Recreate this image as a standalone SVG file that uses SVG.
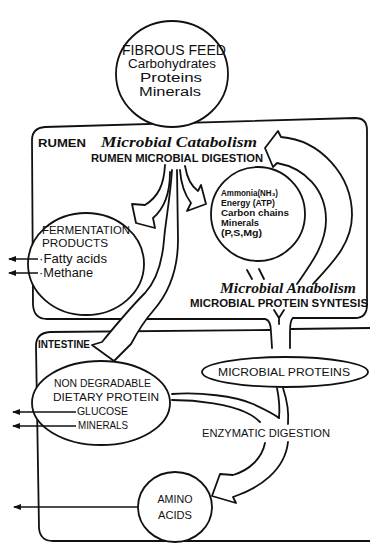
<svg xmlns="http://www.w3.org/2000/svg" width="370" height="544" viewBox="0 0 370 544">
<defs>
<style>
.ln{fill:none;stroke:#111;stroke-width:1.8;stroke-linecap:round;stroke-linejoin:round}
.ar{fill:#fff;stroke:#111;stroke-width:1.8;stroke-linecap:round;stroke-linejoin:round}
.nd{fill:#fff;stroke:#111;stroke-width:1.8}
.t{font-family:"Liberation Sans",Arial,"DejaVu Sans",sans-serif;fill:#111}
.b{font-weight:bold}
.s{font-family:"Liberation Serif","Times New Roman",serif;font-style:italic;font-weight:bold;fill:#111}
.m{text-anchor:middle}
.out{fill:none;stroke:#111;stroke-width:1.5;marker-end:url(#ah)}
</style>
<marker id="ah" viewBox="0 0 8 8" refX="7" refY="4" markerWidth="8" markerHeight="8" markerUnits="userSpaceOnUse" orient="auto">
<path d="M0,1 L8,4 L0,7 Z" fill="#111"/>
</marker>
</defs>
<rect width="370" height="544" fill="#fff"/>

<g id="rumen">
<path class="ln" d="M293 318 L355 318 Q367 318 367 305 L367 130 Q367 118 355 118 L45 127 Q32 128 32 140 L33 305 Q34 319 47 319 L265 319"/>
<text class="t b" x="38" y="147" font-size="11" textLength="48" lengthAdjust="spacingAndGlyphs">RUMEN</text>
<text class="s" x="101" y="147" font-size="14" textLength="156" lengthAdjust="spacingAndGlyphs">Microbial Catabolism</text>
<text class="t b" x="91" y="162" font-size="11" textLength="172" lengthAdjust="spacingAndGlyphs">RUMEN MICROBIAL DIGESTION</text>
</g>

<g id="intestine">
<path class="ln" d="M270 330 L50 332 Q36 333 36 346 L39 528 Q40 541 53 541 L370 541"/>
<path class="ln" d="M291 329 L370 328"/>
<text class="t b" x="38" y="348" font-size="10" textLength="52" lengthAdjust="spacingAndGlyphs">INTESTINE</text>
</g>

<g id="fibrous-feed">
<ellipse class="nd" cx="172" cy="74" rx="56" ry="53"/>
<text class="t m" x="174" y="55" font-size="14" textLength="104" lengthAdjust="spacingAndGlyphs">FIBROUS FEED</text>
<text class="t m" x="172" y="68" font-size="12.5" textLength="88" lengthAdjust="spacingAndGlyphs">Carbohydrates</text>
<text class="t m" x="171" y="82" font-size="12.5" textLength="62" lengthAdjust="spacingAndGlyphs">Proteins</text>
<text class="t m" x="170" y="96" font-size="12.5" textLength="62" lengthAdjust="spacingAndGlyphs">Minerals</text>
</g>

<g id="fermentation-products">
<ellipse class="nd" cx="86" cy="264" rx="58" ry="51"/>
<text class="t" x="42" y="234" font-size="11.5" textLength="88" lengthAdjust="spacingAndGlyphs">FERMENTATION</text>
<text class="t" x="42" y="247" font-size="11.5" textLength="66" lengthAdjust="spacingAndGlyphs">PRODUCTS</text>
<text class="t" x="39" y="263" font-size="13" textLength="68" lengthAdjust="spacingAndGlyphs">·Fatty acids</text>
<text class="t" x="39" y="277" font-size="13" textLength="54" lengthAdjust="spacingAndGlyphs">·Methane</text>
</g>

<g id="ammonia">
<ellipse class="nd" cx="258" cy="214" rx="47" ry="47"/>
<text class="t b" x="221" y="196" font-size="9" textLength="57" lengthAdjust="spacingAndGlyphs">Ammonia(NH₃)</text>
<text class="t b" x="221" y="206" font-size="9" textLength="54" lengthAdjust="spacingAndGlyphs">Energy (ATP)</text>
<text class="t b" x="221" y="216" font-size="9" textLength="68" lengthAdjust="spacingAndGlyphs">Carbon chains</text>
<text class="t b" x="221" y="226" font-size="9" textLength="38" lengthAdjust="spacingAndGlyphs">Minerals</text>
<text class="t b" x="221" y="236" font-size="9" textLength="41" lengthAdjust="spacingAndGlyphs">(P,S,Mg)</text>
</g>

<g id="anabolism">
<text class="s" x="220" y="293" font-size="14" textLength="136" lengthAdjust="spacingAndGlyphs">Microbial Anabolism</text>
<text class="t b" x="190" y="307" font-size="11" textLength="178" lengthAdjust="spacingAndGlyphs">MICROBIAL PROTEIN SYNTESIS</text>
</g>

<g id="microbial-proteins">
<ellipse class="nd" cx="285" cy="372" rx="83" ry="15"/>
<text class="t m" x="284" y="376" font-size="11.5" textLength="132" lengthAdjust="spacingAndGlyphs">MICROBIAL PROTEINS</text>
</g>

<g id="nondegradable-protein">
<ellipse class="nd" cx="101" cy="403" rx="69" ry="42"/>
<text class="t" x="54" y="387" font-size="11" textLength="97" lengthAdjust="spacingAndGlyphs">NON DEGRADABLE</text>
<text class="t" x="53" y="401" font-size="11" textLength="106" lengthAdjust="spacingAndGlyphs">DIETARY PROTEIN</text>
<text class="t" x="77" y="415" font-size="11" textLength="51" lengthAdjust="spacingAndGlyphs">GLUCOSE</text>
<text class="t" x="78" y="429" font-size="11" textLength="50" lengthAdjust="spacingAndGlyphs">MINERALS</text>
</g>

<g id="enzymatic-digestion">
<text class="t" x="202" y="437" font-size="11" textLength="128" lengthAdjust="spacingAndGlyphs">ENZYMATIC DIGESTION</text>
</g>

<g id="amino-acids">
<ellipse class="nd" cx="175" cy="507" rx="37" ry="35"/>
<text class="t m" x="175" y="503" font-size="11.5" textLength="35" lengthAdjust="spacingAndGlyphs">AMINO</text>
<text class="t m" x="175" y="519" font-size="11.5" textLength="34" lengthAdjust="spacingAndGlyphs">ACIDS</text>
</g>

<g id="connectors">
<path class="ar" d="M165 165 C164 185 158 197 145 205 L132 204 L136 223 L155 228 L153 218 C165 208 170 192 170 172"/>
<path class="ar" d="M172 170 C170 200 165 225 164 240 C162 265 155 282 145 293 C133 305 120 320 102 342 L92 345 L114 361 L131 344 C138 331 145 320 153 311 C168 294 178 272 178 240 L177 170"/>
<path class="ar" d="M185 166 C187 178 191 186 198 191 L201 185 L206 204 L187 211 L191 203 C185 195 181 185 180 170"/>
<path class="ar" d="M297 284 C310 265 326 245 326 220 C326 190 305 168 277 163 L273 167 L265 148 L278 131 L281 137 C320 140 352 175 352 215 C352 245 330 265 313 284"/>
<path class="ln" d="M247 270 L252 279 M259 269 L264 279"/>
<path class="ln" d="M274 310 L279 318 L284 310 M279 318 L279 324"/>
<path class="ln" d="M265 319 Q271 320 271 332 L272 348"/>
<path class="ln" d="M293 318 Q290 320 290 332 L290 348"/>
<path class="ln" d="M172 394 C200 392 235 396 253 404 C266 410 274 414 279 418"/>
<path class="ln" d="M277 388 C279 398 280 408 279 418"/>
<path class="ln" d="M172 400 C200 400 230 405 245 412 C252 415 257 419 260 422"/>
<path class="ln" d="M283 388 C287 400 289 412 288 424"/>
<path class="ar" d="M265 443 C262 458 250 470 233 475 L220 474 L212 496 L236 503 L233 497 C260 488 285 470 288 442"/>
<path class="out" d="M38 259 L9 259"/>
<path class="out" d="M38 273 L9 273"/>
<path class="out" d="M76 412 L13 412"/>
<path class="out" d="M76 426 L13 426"/>
<path class="out" d="M138 507 L14 507"/>
</g>
</svg>
